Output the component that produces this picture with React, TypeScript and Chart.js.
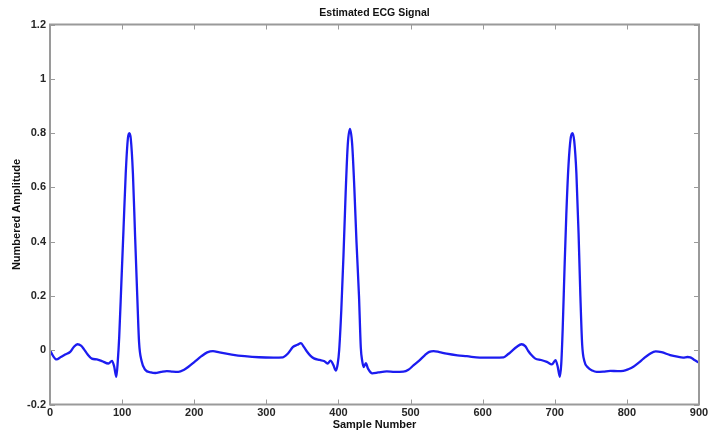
import React, { useEffect, useRef } from "react";
import { Chart, registerables } from "chart.js";

Chart.register(...registerables);

const sampleIdx: number[] = [
  0, 4, 9, 15, 21, 28, 33, 38, 43, 47, 52, 58, 65, 72, 81, 86, 89, 92, 94, 96,
  99, 102, 105, 108, 110, 112, 115, 118, 121, 123.5, 127, 132, 140, 146, 154, 162, 170, 178, 186, 192,
  200, 210, 218, 226, 235, 252, 270, 290, 310, 323, 330, 337, 343, 348, 352, 356, 361, 366, 374, 380,
  385, 389, 393, 396.5, 399, 401, 404, 407, 410, 413, 416, 419, 422, 425, 428.5, 431, 433, 435, 438, 441,
  447, 455, 467, 478, 490, 497, 504, 512, 520, 526, 532, 540, 550, 565, 578, 596, 615, 629, 635, 640,
  647, 654, 659, 663, 667, 673, 681, 689, 696, 701, 704, 707, 709, 711, 713.5, 716, 719, 722, 724.5, 727,
  730, 733, 735.5, 738, 741, 746, 752, 758, 767, 777, 787, 795, 802, 809, 816, 823, 831, 840, 848, 860,
  870, 878, 884, 888, 893, 900,
];

const amplitude: number[] = [
  0.0, -0.02, -0.034, -0.025, -0.016, -0.006, 0.012, 0.022, 0.017, 0.004, -0.015, -0.031, -0.034, -0.04, -0.049, -0.039, -0.06, -0.098, -0.04, 0.05,
  0.25, 0.45, 0.65, 0.78, 0.8, 0.78, 0.65, 0.42, 0.2, 0.03, -0.04, -0.072, -0.082, -0.084, -0.08, -0.077, -0.079, -0.08, -0.072, -0.061,
  -0.044, -0.022, -0.008, -0.003, -0.008, -0.016, -0.022, -0.026, -0.027, -0.026, -0.012, 0.012, 0.02, 0.026, 0.012, -0.004, -0.02, -0.03, -0.036, -0.04,
  -0.049, -0.038, -0.055, -0.075, -0.05, 0.0, 0.15, 0.35, 0.58, 0.76, 0.815, 0.76, 0.6, 0.4, 0.2, 0.01, -0.04, -0.062, -0.048, -0.068,
  -0.085, -0.082, -0.078, -0.08, -0.079, -0.072, -0.056, -0.038, -0.018, -0.006, -0.003, -0.007, -0.013, -0.019, -0.022, -0.027, -0.027, -0.026, -0.015, -0.004,
  0.012, 0.022, 0.015, -0.002, -0.016, -0.031, -0.036, -0.043, -0.052, -0.037, -0.06, -0.098, -0.05, 0.08, 0.3, 0.5, 0.68, 0.78, 0.8, 0.77,
  0.65, 0.43, 0.2, 0.02, -0.04, -0.064, -0.075, -0.08, -0.079, -0.076, -0.077, -0.076, -0.07, -0.061, -0.047, -0.031, -0.015, -0.004, -0.007, -0.018,
  -0.024, -0.027, -0.025, -0.026, -0.035, -0.046,
];

const titleText = "Estimated ECG Signal";
const xTitle = "Sample Number";
const yTitle = "Numbered Amplitude";
const xRange = [0, 900];
const yRange = [-0.2, 1.2];
const xStep = 100;
const yStep = 0.2;

const FAMILY = "'Liberation Sans', Arial, sans-serif";

const boxPlugin = {
  id: "matlabBox",
  afterDraw(chart: any) {
    const { ctx, chartArea } = chart;
    const { left, right, top, bottom } = chartArea;
    ctx.save();
    ctx.strokeStyle = "#9a9a9a";
    ctx.lineWidth = 1;
    const len = 5;
    const xs = chart.scales.x;
    const ys = chart.scales.y;
    ctx.beginPath();
    xs.ticks.forEach((t: any) => {
      const p = Math.round(xs.getPixelForValue(t.value)) + 0.5;
      ctx.moveTo(p, bottom);
      ctx.lineTo(p, bottom - len);
      ctx.moveTo(p, top);
      ctx.lineTo(p, top + len);
    });
    ys.ticks.forEach((t: any) => {
      const p = Math.round(ys.getPixelForValue(t.value)) + 0.5;
      ctx.moveTo(left, p);
      ctx.lineTo(left + len, p);
      ctx.moveTo(right, p);
      ctx.lineTo(right - len, p);
    });
    ctx.stroke();
    ctx.lineWidth = 2;
    ctx.strokeRect(left, top, right - left, bottom - top);
    // title centred over the axes box
    ctx.fillStyle = "#111";
    ctx.font = `bold 10.5px ${FAMILY}`;
    ctx.textAlign = "center";
    ctx.textBaseline = "middle";
    ctx.fillText(titleText, (left + right) / 2, 13);
    ctx.restore();
  },
};

export default function App() {
  const ref = useRef<HTMLCanvasElement | null>(null);
  useEffect(() => {
    document.body.style.margin = "0";
    const canvas = ref.current;
    if (!canvas) return;
    const font = { family: FAMILY, size: 11, weight: "bold" as const };
    const chart = new Chart(canvas, {
      type: "line",
      data: {
        datasets: [
          {
            data: sampleIdx.map((x, i) => ({ x, y: amplitude[i] })),
            borderColor: "#1c1cf0",
            borderWidth: 2.3,
            pointRadius: 0,
            cubicInterpolationMode: "monotone",
            fill: false,
          },
        ],
      },
      options: {
        animation: false,
        responsive: false,
        layout: { padding: { left: 0, right: 10, top: 24.5, bottom: 0 } },
        plugins: {
          legend: { display: false },
          tooltip: { enabled: false },
          title: { display: false },
        },
        scales: {
          x: {
            type: "linear",
            min: xRange[0],
            max: xRange[1],
            grid: { display: false, drawTicks: false },
            border: { display: false },
            ticks: { stepSize: xStep, color: "#262626", font, padding: 2, maxRotation: 0 },
            title: {
              display: true,
              text: xTitle,
              color: "#111",
              font,
              padding: { top: 0, bottom: 2 },
            },
            afterFit: (s: any) => {
              s.height = 29.5;
              s.paddingRight = 0;
              s.paddingLeft = 0;
            },
          },
          y: {
            type: "linear",
            min: yRange[0],
            max: yRange[1],
            grid: { display: false, drawTicks: false },
            border: { display: false },
            ticks: {
              stepSize: yStep,
              color: "#262626",
              font,
              padding: 4,
              callback: (v: any) => String(Number(Number(v).toFixed(1))),
            },
            title: {
              display: true,
              text: yTitle,
              color: "#111",
              font,
              padding: { top: 10, bottom: 0 },
            },
            afterFit: (s: any) => {
              s.width = 50;
              s.paddingTop = 0;
              s.paddingBottom = 0;
            },
          },
        },
      },
      plugins: [boxPlugin],
    });
    return () => chart.destroy();
  }, []);
  return <canvas ref={ref} width={709} height={434} style={{ display: "block" }} />;
}
